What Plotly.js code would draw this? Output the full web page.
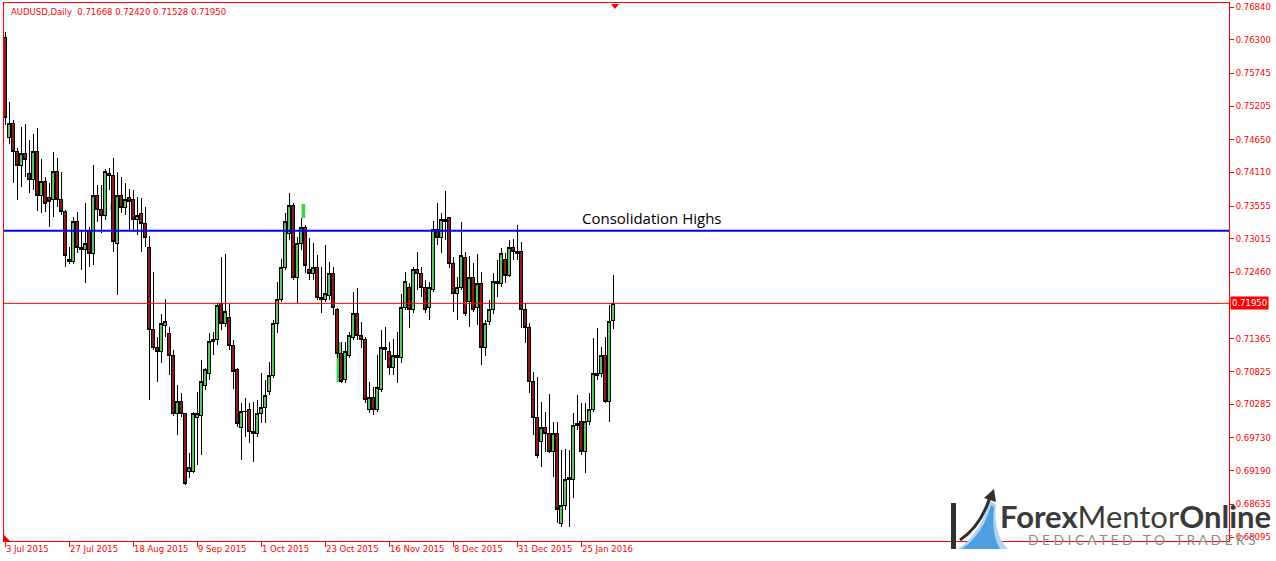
<!DOCTYPE html>
<html>
<head>
<meta charset="utf-8">
<script src="https://cdn.plot.ly/plotly-3.0.1.min.js"></script>
<style>
  html, body { margin: 0; padding: 0; background: #ffffff; }
  #chart { width: 1276px; height: 561px; }
  /* keep candle outlines and wicks pixel-sharp */
  #chart .boxlayer path { shape-rendering: crispEdges; }
</style>
</head>
<body>
<div id="chart"></div>
<script>
// AUDUSD daily bars, 3 Jul 2015 - 4 Feb 2016
const open = [
  0.76329, 0.74695, 0.74926, 0.74464, 0.74217, 0.74415, 0.74085, 0.74002, 0.74448, 0.73722,
  0.73969, 0.73705, 0.73656, 0.74118, 0.73672, 0.73458, 0.72666, 0.72633, 0.73293, 0.72864,
  0.72847, 0.73144, 0.72781, 0.73738, 0.73507, 0.73392, 0.74101, 0.74068, 0.72946, 0.73722,
  0.73524, 0.73689, 0.73656, 0.73326, 0.73425, 0.73260, 0.72880, 0.71511, 0.71214, 0.71148,
  0.71577, 0.71445, 0.71082, 0.70125, 0.70339, 0.70125, 0.69184, 0.69184, 0.70075, 0.70092,
  0.70603, 0.70785, 0.71313, 0.71362, 0.71940, 0.71626, 0.71709, 0.71247, 0.70851, 0.69910,
  0.70174, 0.70207, 0.69828, 0.69795, 0.70125, 0.70224, 0.70488, 0.70768, 0.71610, 0.72022,
  0.72534, 0.73111, 0.73573, 0.72385, 0.72946, 0.73210, 0.72517, 0.72435, 0.72550, 0.72039,
  0.72022, 0.72072, 0.72435, 0.71857, 0.71131, 0.70686, 0.71098, 0.71395, 0.71791, 0.71428,
  0.71362, 0.70207, 0.70405, 0.70207, 0.70521, 0.71214, 0.71164, 0.70900, 0.71082, 0.71049,
  0.71890, 0.72204, 0.71841, 0.72517, 0.72451, 0.72220, 0.71890, 0.72187, 0.73177, 0.73029,
  0.73342, 0.73359, 0.72616, 0.72105, 0.72220, 0.72715, 0.71973, 0.72369, 0.71890, 0.72286,
  0.71230, 0.71643, 0.71841, 0.72303, 0.72270, 0.72666, 0.72418, 0.72880, 0.72798, 0.72798,
  0.71841, 0.71560, 0.70653, 0.70059, 0.69663, 0.69910, 0.69795, 0.69498, 0.69811, 0.68326,
  0.68623, 0.69069, 0.69052, 0.69943, 0.69993, 0.69498, 0.69993, 0.70207, 0.70785, 0.70785,
  0.71098, 0.70323, 0.71668
];
const high = [
  0.76428, 0.75273, 0.74976, 0.74514, 0.74860, 0.74910, 0.74646, 0.74745, 0.74844, 0.74332,
  0.74035, 0.73936, 0.74448, 0.74349, 0.74118, 0.73491, 0.72880, 0.73375, 0.73458, 0.73161,
  0.73606, 0.73210, 0.74233, 0.73903, 0.73903, 0.74167, 0.74184, 0.74349, 0.74118, 0.74035,
  0.73936, 0.73837, 0.73821, 0.73705, 0.73689, 0.73540, 0.73062, 0.72468, 0.71395, 0.71775,
  0.72022, 0.71560, 0.71181, 0.70603, 0.70471, 0.70141, 0.69481, 0.70158, 0.70488, 0.71016,
  0.70884, 0.71461, 0.71478, 0.71956, 0.72715, 0.72765, 0.71940, 0.71346, 0.70884, 0.70306,
  0.70389, 0.70306, 0.70323, 0.70356, 0.70801, 0.70686, 0.70983, 0.71676, 0.72303, 0.72682,
  0.73441, 0.73771, 0.73606, 0.73045, 0.73359, 0.73243, 0.73029, 0.72946, 0.72748, 0.72550,
  0.72913, 0.72633, 0.72550, 0.71874, 0.71313, 0.71313, 0.71478, 0.72138, 0.72204, 0.71643,
  0.71395, 0.70653, 0.70570, 0.71098, 0.71511, 0.71560, 0.71313, 0.71362, 0.71478, 0.72105,
  0.72468, 0.72286, 0.72550, 0.72798, 0.72550, 0.72336, 0.72303, 0.73309, 0.73606, 0.73441,
  0.73804, 0.73375, 0.72715, 0.72385, 0.73293, 0.72798, 0.72732, 0.72616, 0.72765, 0.72468,
  0.71676, 0.72006, 0.72451, 0.72666, 0.72864, 0.72781, 0.72996, 0.73012, 0.73243, 0.72963,
  0.71956, 0.71626, 0.70818, 0.70735, 0.70323, 0.70158, 0.70455, 0.69993, 0.69993, 0.69531,
  0.69547, 0.69531, 0.70141, 0.70438, 0.70306, 0.70306, 0.70471, 0.71379, 0.71544, 0.71230,
  0.71395, 0.71923, 0.72420
];
const low = [
  0.74893, 0.74580, 0.73936, 0.73656, 0.73870, 0.74035, 0.73771, 0.73821, 0.73474, 0.73441,
  0.73458, 0.73210, 0.73375, 0.73540, 0.73408, 0.72550, 0.72600, 0.72600, 0.72781, 0.72501,
  0.72286, 0.72550, 0.72583, 0.73293, 0.73111, 0.73326, 0.73821, 0.72798, 0.72088, 0.73441,
  0.73408, 0.73161, 0.73128, 0.73078, 0.72798, 0.72880, 0.70356, 0.71181, 0.70653, 0.70966,
  0.71395, 0.70768, 0.70092, 0.69778, 0.70075, 0.68953, 0.69069, 0.69151, 0.69283, 0.69448,
  0.70521, 0.70686, 0.71098, 0.71263, 0.71511, 0.71560, 0.71181, 0.70537, 0.69910, 0.69366,
  0.69745, 0.69646, 0.69333, 0.69745, 0.69976, 0.69976, 0.70438, 0.70719, 0.71461, 0.71973,
  0.72501, 0.72996, 0.72336, 0.71956, 0.72831, 0.72451, 0.72336, 0.72336, 0.72006, 0.71791,
  0.71973, 0.72006, 0.71758, 0.71049, 0.70636, 0.70636, 0.71049, 0.71346, 0.71346, 0.71214,
  0.70306, 0.70141, 0.70108, 0.70158, 0.70488, 0.71016, 0.70768, 0.70768, 0.70636, 0.70966,
  0.71841, 0.71544, 0.71791, 0.72171, 0.72055, 0.71791, 0.71676, 0.72138, 0.72913, 0.72781,
  0.72996, 0.72534, 0.71808, 0.71676, 0.72171, 0.71742, 0.71560, 0.71808, 0.71593, 0.70933,
  0.71082, 0.71593, 0.71775, 0.72055, 0.72220, 0.72286, 0.72385, 0.72666, 0.72666, 0.71544,
  0.71296, 0.70471, 0.69778, 0.69399, 0.69250, 0.69498, 0.69481, 0.69085, 0.68326, 0.68260,
  0.68541, 0.68260, 0.68739, 0.69861, 0.69448, 0.69151, 0.69943, 0.70158, 0.70686, 0.70735,
  0.70306, 0.69993, 0.71528
];
const close = [
  0.75009, 0.74926, 0.74464, 0.74217, 0.74415, 0.74332, 0.74002, 0.74448, 0.73722, 0.73969,
  0.73606, 0.73639, 0.74118, 0.73672, 0.73458, 0.72748, 0.72633, 0.73293, 0.72880, 0.72847,
  0.72930, 0.72781, 0.73738, 0.73491, 0.73392, 0.74118, 0.74052, 0.72963, 0.73722, 0.73524,
  0.73656, 0.73639, 0.73326, 0.73408, 0.73260, 0.73045, 0.71511, 0.71214, 0.71148, 0.71610,
  0.71659, 0.71082, 0.70125, 0.70339, 0.70125, 0.68970, 0.69234, 0.70125, 0.70125, 0.70669,
  0.70851, 0.71313, 0.71362, 0.71923, 0.71626, 0.71808, 0.71247, 0.70834, 0.69960, 0.70174,
  0.70158, 0.69828, 0.69795, 0.70125, 0.70224, 0.70422, 0.70768, 0.71610, 0.72022, 0.72534,
  0.73293, 0.73573, 0.72385, 0.72946, 0.73210, 0.72567, 0.72435, 0.72550, 0.72039, 0.72022,
  0.72121, 0.72435, 0.71874, 0.71115, 0.70653, 0.71148, 0.71412, 0.71791, 0.71412, 0.71362,
  0.70372, 0.70389, 0.70207, 0.70554, 0.71214, 0.71197, 0.70900, 0.71082, 0.71049, 0.71890,
  0.72319, 0.71857, 0.72517, 0.72451, 0.72220, 0.71841, 0.72204, 0.73177, 0.73029, 0.73342,
  0.73293, 0.72616, 0.72105, 0.72220, 0.72748, 0.71775, 0.72369, 0.71857, 0.72286, 0.71230,
  0.71626, 0.71841, 0.72303, 0.72270, 0.72781, 0.72418, 0.72880, 0.72798, 0.72765, 0.71841,
  0.71560, 0.70653, 0.70059, 0.69432, 0.69910, 0.69795, 0.69498, 0.69811, 0.68541, 0.68623,
  0.69036, 0.69036, 0.69943, 0.69976, 0.69498, 0.69993, 0.70207, 0.70785, 0.70768, 0.71082,
  0.70323, 0.71643, 0.71950
];

// date labels under the time axis, one every 16 bars
const dateLabels = ['3 Jul 2015', '27 Jul 2015', '18 Aug 2015', '9 Sep 2015', '1 Oct 2015',
  '23 Oct 2015', '16 Nov 2015', '8 Dec 2015', '31 Dec 2015', '25 Jan 2016'];
const barsPerLabel = 16;

// price scale labels
const priceTicks = [0.76840, 0.76300, 0.75745, 0.75205, 0.74650, 0.74110, 0.73555, 0.73015,
  0.72460, 0.71365, 0.70825, 0.70285, 0.69730, 0.69190, 0.68635, 0.68095];

// horizontal level drawn across the range
const consolidationHigh = 0.7315;
const consolidationLabel = 'Consolidation Highs';

// bright green overlay marks (bar position, bottom, top)
const flashX = [26.6, 74.6, 83.4];
const flashLow = [0.73491, 0.73359, 0.70653];
const flashHigh = [0.73606, 0.73590, 0.71313];
const flashWidth = [0.5, 0.9, 1.0];

const symbol = 'AUDUSD,Daily';

const barIndex = open.map((_, i) => i);
const last = open.length - 1;
const lastClose = close[last];

// figure geometry helpers for decorations outside the data area
const PL = 4, PR = 1229, PT = 3, PB = 541;
const X = px => (px - PL) / (PR - PL);
const Y = py => (PB - py) / (PB - PT);
function pathOf(parts) {
  let out = '', k = 0;
  for (const p of parts) {
    if (typeof p === 'string') { out += p + ' '; k = 0; }
    else { out += (k % 2 === 0 ? X(p) : Y(p)).toFixed(5) + (k % 2 === 0 ? ',' : ' '); k++; }
  }
  return out.trim();
}

const red = '#ff0000';
const axisFont = { family: 'DejaVu Sans, Tahoma, sans-serif', size: 8.5, color: red };

const candles = {
  type: 'candlestick',
  x: barIndex,
  open: open, high: high, low: low, close: close,
  increasing: { line: { color: '#000000', width: 1 }, fillcolor: '#5fc45f' },
  decreasing: { line: { color: '#000000', width: 1 }, fillcolor: '#8b1a1a' },
  whiskerwidth: 0,
  hoverinfo: 'skip',
  showlegend: false
};

const flashes = {
  type: 'bar',
  x: flashX,
  base: flashLow,
  y: flashHigh.map((h, i) => h - flashLow[i]),
  width: flashWidth,
  marker: { color: '#3fd23f', line: { width: 0 } },
  hoverinfo: 'skip',
  showlegend: false
};

const layout = {
  width: 1276,
  height: 561,
  margin: { l: PL, r: 1276 - PR, t: PT, b: 561 - PB, pad: 0 },
  paper_bgcolor: '#ffffff',
  plot_bgcolor: '#ffffff',
  showlegend: false,
  boxgap: 0.2,
  boxgroupgap: 0,
  xaxis: {
    range: [-0.25, 306],
    showgrid: false,
    zeroline: false,
    showline: true,
    linecolor: red,
    linewidth: 1,
    mirror: true,
    ticks: 'outside',
    ticklen: 5,
    tickwidth: 1,
    tickcolor: red,
    tickvals: dateLabels.map((_, i) => i * barsPerLabel),
    ticktext: dateLabels,
    ticklabelposition: 'outside right',
    tickfont: axisFont,
    rangeslider: { visible: false },
    fixedrange: true
  },
  yaxis: {
    side: 'right',
    range: [0.68029, 0.76906],
    showgrid: false,
    zeroline: false,
    showline: true,
    linecolor: red,
    linewidth: 1,
    mirror: true,
    ticks: 'outside',
    ticklen: 4,
    tickwidth: 1,
    tickcolor: red,
    tickvals: priceTicks,
    ticktext: priceTicks.map(v => v.toFixed(5)),
    tickfont: axisFont,
    fixedrange: true
  },
  shapes: [
    // bid line
    { type: 'line', xref: 'paper', x0: 0, x1: 1, yref: 'y', y0: lastClose, y1: lastClose,
      line: { color: red, width: 1 } },
    // consolidation level
    { type: 'line', xref: 'paper', x0: 0, x1: 1, yref: 'y', y0: consolidationHigh, y1: consolidationHigh,
      line: { color: '#0000ff', width: 2 } },
    // chart shift marker at the top
    { type: 'path', xref: 'paper', yref: 'paper', path: pathOf(['M', 611, 4, 'L', 619, 4, 'L', 615, 9, 'Z']),
      fillcolor: red, line: { width: 0 } },
    // corner marker
    { type: 'path', xref: 'paper', yref: 'paper', path: pathOf(['M', 4, 535, 'L', 4, 541, 'L', 10, 541, 'Z']),
      fillcolor: red, line: { width: 0 } },
    // brand mark: upright bar
    { type: 'rect', xref: 'paper', yref: 'paper', x0: X(951), x1: X(956), y0: Y(549), y1: Y(503),
      fillcolor: '#2f2f2f', line: { width: 0 } },
    // brand mark: swoosh stripes
    { type: 'path', xref: 'paper', yref: 'paper',
      path: pathOf(['M', 958, 549, 'Q', 982, 532, 989, 501, 'L', 996, 504, 'Q', 993, 534, 1008, 549, 'Z']),
      fillcolor: '#a9d6f5', line: { width: 0 } },
    { type: 'path', xref: 'paper', yref: 'paper',
      path: pathOf(['M', 962, 549, 'Q', 984, 533, 991, 505, 'L', 994, 507, 'Q', 991, 535, 1000, 549, 'Z']),
      fillcolor: '#4f9fe0', line: { width: 0 } },
    // brand mark: arrow
    { type: 'path', xref: 'paper', yref: 'paper',
      path: pathOf(['M', 960, 540, 'Q', 981, 526, 990, 497]),
      line: { color: '#2f2f2f', width: 3 } },
    { type: 'path', xref: 'paper', yref: 'paper',
      path: pathOf(['M', 984, 498, 'L', 994, 489, 'L', 996, 502, 'Z']),
      fillcolor: '#2f2f2f', line: { width: 0 } }
  ],
  annotations: [
    {
      xref: 'paper', yref: 'paper', x: 0, y: 1, xanchor: 'left', yanchor: 'top', xshift: 5, yshift: -2,
      text: symbol + '  ' + [open[last], high[last], low[last], close[last]].map(v => v.toFixed(5)).join(' '),
      showarrow: false, font: axisFont
    },
    {
      xref: 'paper', yref: 'y', x: 1, y: lastClose, xanchor: 'left', yanchor: 'middle', xshift: 1,
      text: lastClose.toFixed(5), showarrow: false, bgcolor: red, borderpad: 1,
      font: { family: axisFont.family, size: axisFont.size, color: '#ffffff' }
    },
    {
      xref: 'x', yref: 'y', x: 161.75, y: consolidationHigh, xanchor: 'center', yanchor: 'bottom', yshift: 1,
      text: consolidationLabel, showarrow: false,
      font: { family: 'Open Sans, sans-serif', size: 15, color: '#000000' }
    },
    {
      xref: 'paper', yref: 'paper', x: X(998), y: Y(516), xanchor: 'left', yanchor: 'middle',
      text: '<b>Forex</b>Mentor<b>Online</b>', showarrow: false,
      font: { family: 'Lato, sans-serif', size: 31, color: '#3a3a3a' }
    },
    {
      xref: 'paper', yref: 'paper', x: X(1026), y: Y(539), xanchor: 'left', yanchor: 'middle',
      text: 'D E D I C A T E D   T O   T R A D E R S', showarrow: false,
      font: { family: 'Lato, sans-serif', size: 13.8, color: '#8c8c8c' }
    }
  ]
};

Plotly.newPlot('chart', [candles, flashes], layout, { staticPlot: true, displayModeBar: false });
</script>
</body>
</html>
